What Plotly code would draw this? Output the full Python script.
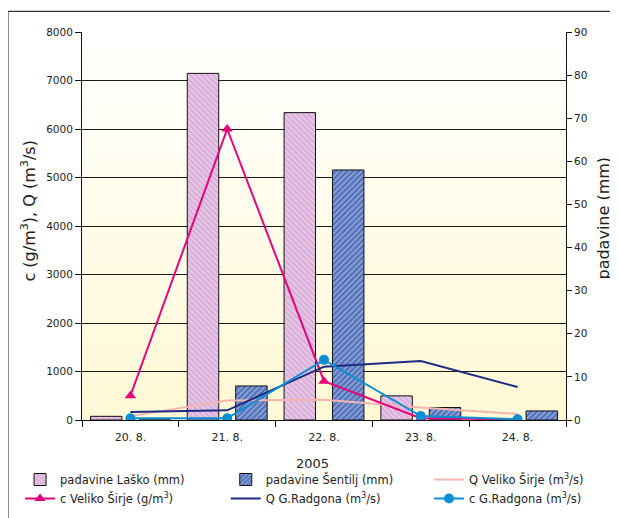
import plotly.graph_objects as go

categories = ["20. 8.", "21. 8.", "22. 8.", "23. 8.", "24. 8."]
padavine_lasko = [0.85, 80.4, 71.3, 5.6, 0]
padavine_sentilj = [0, 7.9, 58.0, 2.9, 2.1]
q_veliko_sirje = [80, 400, 420, 260, 125]
c_veliko_sirje = [500, 6000, 800, 35, 15]
q_gradgona = [165, 200, 1100, 1215, 680]
c_gradgona = [35, 35, 1240, 80, 15]

FONT = "DejaVu Sans"
TXT = "#222222"

fig = go.Figure()

fig.add_trace(go.Bar(
    x=categories, y=padavine_lasko, name="padavine Laško (mm)", yaxis="y",
    legend="legend",
    marker=dict(color="#DDB6DD", line=dict(color="#111111", width=1),
                pattern=dict(shape="\\", fgcolor="#F7ECF7", bgcolor="#D9AED9",
                             size=4, solidity=0.4, fillmode="overlay")),
))
fig.add_trace(go.Bar(
    x=categories, y=padavine_sentilj, name="padavine Šentilj (mm)", yaxis="y",
    legend="legend2",
    marker=dict(color="#4868B4", line=dict(color="#111111", width=1),
                pattern=dict(shape="/", fgcolor="#C8D6F4", bgcolor="#4868B4",
                             size=4, solidity=0.55, fillmode="overlay")),
))
fig.add_trace(go.Scatter(
    x=categories, y=q_veliko_sirje, name="Q Veliko Širje (m<sup>3</sup>/s)", yaxis="y2",
    legend="legend3",
    mode="lines", line=dict(color="#F6B3B3", width=2),
))
fig.add_trace(go.Scatter(
    x=categories, y=c_veliko_sirje, name="c Veliko Širje (g/m<sup>3</sup>)", yaxis="y2",
    legend="legend",
    mode="lines+markers", line=dict(color="#E5007E", width=2),
    marker=dict(symbol="triangle-up", size=10, color="#E5007E"),
))
fig.add_trace(go.Scatter(
    x=categories, y=q_gradgona, name="Q G.Radgona (m<sup>3</sup>/s)", yaxis="y2",
    legend="legend2",
    mode="lines", line=dict(color="#1E2B85", width=2),
))
fig.add_trace(go.Scatter(
    x=categories, y=c_gradgona, name="c G.Radgona (m<sup>3</sup>/s)", yaxis="y2",
    legend="legend3",
    mode="lines+markers", line=dict(color="#0A8FD4", width=2),
    marker=dict(symbol="circle", size=10, color="#0A8FD4"),
))

# background gradient (white at top -> pale cream at bottom)
shapes = []
n = 40
for i in range(n):
    t = (i + 0.5) / n  # 0 bottom -> 1 top
    r, g, b = 255, 248 + (255 - 248) * t, 212 + (255 - 212) * t
    shapes.append(dict(type="rect", xref="x domain", yref="y domain",
                       x0=0, x1=1, y0=i / n, y1=(i + 1) / n,
                       fillcolor="rgb(%d,%d,%d)" % (r, round(g), round(b)),
                       line=dict(width=0), layer="below"))
# outer frame
shapes.append(dict(type="rect", xref="paper", yref="paper",
                   x0=-0.153, x1=2, y0=-1, y1=1.053,
                   line=dict(color="#333333", width=1.2), fillcolor="rgba(0,0,0,0)"))


def leg(x):
    return dict(orientation="v", x=x, y=-0.116, xanchor="left", yanchor="top",
                traceorder="normal", itemwidth=30, tracegroupgap=0,
                font=dict(family=FONT, size=11.5, color=TXT),
                bgcolor="rgba(0,0,0,0)", borderwidth=0)


fig.update_layout(
    width=610, height=510,
    margin=dict(l=74, r=52, t=24, b=98, autoexpand=False),
    paper_bgcolor="white", plot_bgcolor="rgba(0,0,0,0)",
    font=dict(family=FONT, color=TXT, size=11),
    barmode="group", bargap=0, bargroupgap=0.35,
    showlegend=True,
    legend=leg(-0.128),
    legend2=leg(0.297),
    legend3=leg(0.717),
    xaxis=dict(type="category", tickson="boundaries", ticks="outside", ticklen=6,
               tickcolor="#111111", showline=True, linecolor="#111111", linewidth=1,
               showgrid=False, tickfont=dict(size=11), zeroline=False, automargin=False,
               ticklabelstandoff=7),
    yaxis=dict(side="right", range=[0, 90], dtick=10, showgrid=False, zeroline=False,
               showline=True, linecolor="#111111", linewidth=1, ticks="outside",
               ticklen=5, tickcolor="#111111", tickfont=dict(size=10.5), automargin=False),
    yaxis2=dict(overlaying="y", side="left", range=[0, 8000], dtick=1000,
                showgrid=True, gridcolor="#1a1a1a", gridwidth=1, zeroline=False,
                showline=True, linecolor="#111111", linewidth=1, ticks="outside",
                ticklen=6, tickcolor="#111111", tickfont=dict(size=10.5), automargin=False),
    shapes=shapes,
    annotations=[
        dict(text="c (g/m<sup>3</sup>), Q (m<sup>3</sup>/s)", xref="paper", yref="paper",
             x=-0.111, y=0.538, xanchor="center", yanchor="middle",
             textangle=-90, showarrow=False,
             font=dict(family=FONT, size=16, color=TXT)),
        dict(text="padavine (mm)", xref="paper", yref="paper",
             x=1.077, y=0.52, xanchor="center", yanchor="middle",
             textangle=-90, showarrow=False,
             font=dict(family=FONT, size=16, color=TXT)),
        dict(text="2005", xref="paper", yref="paper",
             x=0.477, y=-0.112, xanchor="center", yanchor="middle", showarrow=False,
             font=dict(family=FONT, size=13, color=TXT)),
    ],
)

fig.write_html("out.html")
